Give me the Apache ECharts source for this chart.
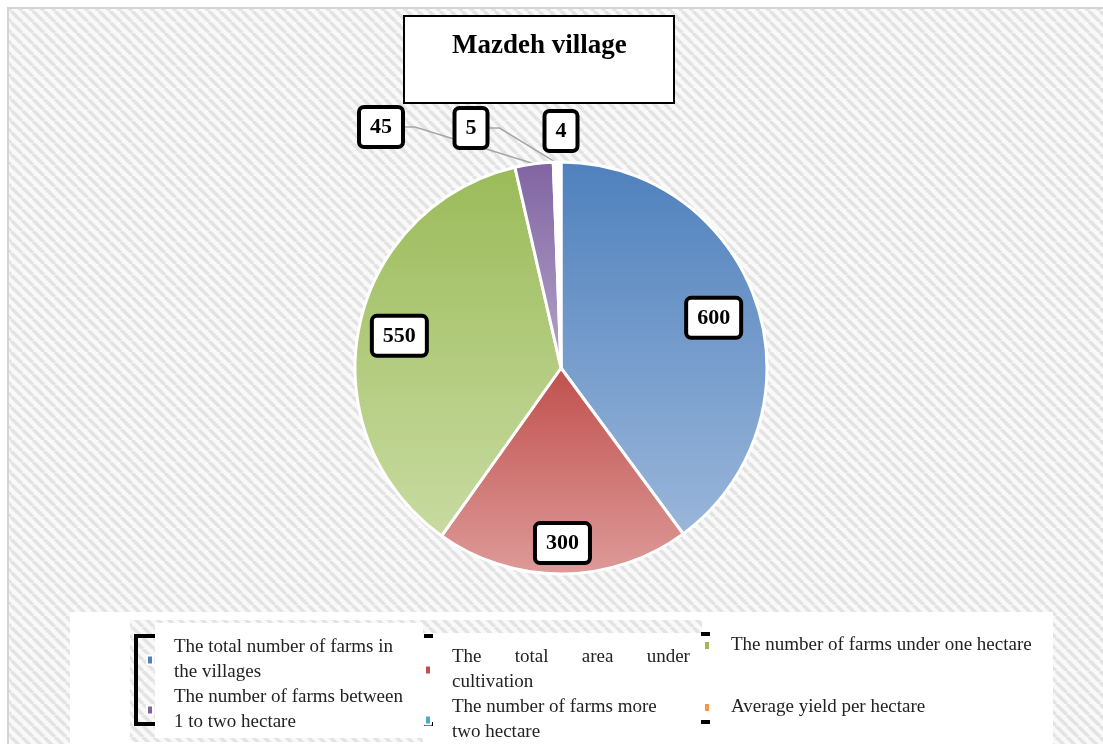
<!DOCTYPE html>
<html>
<head>
<meta charset="utf-8">
<style>
  html, body { margin: 0; padding: 0; background: #fff; }
  #chart { width: 1103px; height: 744px; }
</style>
<script src="https://cdn.jsdelivr.net/npm/echarts@6/dist/echarts.min.js"></script>
</head>
<body>
<div id="chart"></div>
<script>
// data
const categories = [
  'The total number of farms in the villages',
  'The total area under cultivation',
  'The number of farms under one hectare',
  'The number of farms between 1 to two hectare',
  'The number of farms more two hectare',
  'Average yield per hectare'
];
const values = [600, 300, 550, 45, 5, 4];
const legendLines = [
  'The total number of farms in\nthe villages',
  'The       total       area       under\ncultivation',
  'The number of farms under one hectare',
  'The number of farms between\n1 to two hectare',
  'The number of farms more\ntwo hectare',
  'Average yield per hectare'
];

const baseColors = ['#4f81bd', '#c0504d', '#9bbb59', '#8064a2', '#4bacc6', '#f79646'];
const lightColors = ['#9ab6da', '#dd9b99', '#c8dba1', '#b4a4c9', '#ffffff', '#ffffff'];

const cx = 561, cy = 368, R = 206;
const total = values.reduce((a, b) => a + b, 0);

// hatch pattern for the background
function hatch() {
  const s = 11;
  const c = document.createElement('canvas');
  c.width = s; c.height = s;
  const g = c.getContext('2d');
  g.fillStyle = '#f9f9f9';
  g.fillRect(0, 0, s, s);
  g.strokeStyle = '#e3e3e3';
  g.lineWidth = 3.5;
  g.beginPath();
  for (let k = -1; k <= 1; k++) {
    g.moveTo(k * s, 0);
    g.lineTo(k * s + s, s);
  }
  g.stroke();
  return c;
}
const pattern = { image: hatch(), repeat: 'repeat' };

function midAngle(i) {
  let s = 0;
  for (let j = 0; j < i; j++) s += values[j];
  return (s + values[i] / 2) / total * Math.PI * 2;
}

// where the small outside labels sit
const smallLabelPos = { 3: [381, 127], 4: [471, 128], 5: [561, 131] };
const labelRadius = [0.78, 0.85, 0.8];

const chart = echarts.init(document.getElementById('chart'));

const pieData = values.map((v, i) => {
  const item = {
    name: categories[i],
    value: v,
    itemStyle: {
      color: i < 4
        ? new echarts.graphic.LinearGradient(0, 0, 0, 1, [
            { offset: 0, color: baseColors[i] },
            { offset: 1, color: lightColors[i] }
          ])
        : '#ffffff'
    }
  };
  if (i >= 3) {
    item.label = { position: 'outside' };
    item.labelLine = { show: i !== 5 };
  }
  return item;
});

function legendFor(idx, left, top, gap) {
  return {
    orient: 'vertical',
    left: left,
    top: top,
    height: 115,
    padding: 0,
    itemGap: gap,
    itemWidth: 6,
    itemHeight: 9,
    icon: 'rect',
    selectedMode: false,
    data: idx.map(i => ({ name: categories[i], itemStyle: { color: baseColors[i] } })),
    formatter: name => legendLines[categories.indexOf(name)],
    textStyle: {
      fontFamily: 'Liberation Serif',
      fontSize: 19,
      lineHeight: 25,
      color: '#222',
      padding: [0, 0, 0, 16]
    }
  };
}

const dash = (x, y) => ({
  type: 'line', z: -6, silent: true,
  shape: { x1: x, y1: y, x2: x + 9, y2: y },
  style: { stroke: '#000', lineWidth: 4 }
});

chart.setOption({
  backgroundColor: '#fff',
  animation: false,
  title: {
    text: 'Mazdeh village',
    left: 404,
    top: 16,
    padding: [15, 48, 42, 48],
    backgroundColor: '#fff',
    borderColor: '#000',
    borderWidth: 2,
    textStyle: {
      fontFamily: 'Liberation Serif',
      fontSize: 27,
      fontWeight: 'bold',
      lineHeight: 30,
      color: '#000'
    }
  },
  graphic: [
    { type: 'rect', z: -10, silent: true,
      shape: { x: 8, y: 8, width: 1110, height: 760 },
      style: { fill: pattern, stroke: '#d4d4d4', lineWidth: 2 } },
    { type: 'rect', z: -9, silent: true,
      shape: { x: 70, y: 612, width: 983, height: 140 },
      style: { fill: '#fff' } },
    { type: 'rect', z: -8, silent: true,
      shape: { x: 130, y: 620, width: 572, height: 122 },
      style: { fill: pattern } },
    { type: 'rect', z: -7, silent: true,
      shape: { x: 155, y: 623, width: 268, height: 115 },
      style: { fill: '#fff' } },
    { type: 'rect', z: -7, silent: true,
      shape: { x: 423, y: 633, width: 279, height: 115 },
      style: { fill: '#fff' } },
    { type: 'polyline', z: -6, silent: true,
      shape: { points: [[155, 636], [136, 636], [136, 724], [155, 724]] },
      style: { stroke: '#000', lineWidth: 4, fill: null } },
    dash(424, 636), dash(424, 724), dash(701, 634), dash(701, 722)
  ],
  legend: [
    legendFor([0, 3], 146, 635, 0),
    legendFor([1, 4], 424, 645, 0),
    legendFor([2, 5], 703, 633, 37)
  ],
  series: [{
    type: 'pie',
    center: [cx, cy],
    radius: R,
    startAngle: 90,
    clockwise: true,
    avoidLabelOverlap: false,
    data: pieData,
    itemStyle: { borderColor: '#fff', borderWidth: 3 },
    label: {
      show: true,
      position: 'inside',
      formatter: '{c}',
      fontFamily: 'Liberation Serif',
      fontWeight: 'bold',
      fontSize: 22,
      lineHeight: 24,
      color: '#000',
      backgroundColor: '#fff',
      borderColor: '#000',
      borderWidth: 4,
      borderRadius: 3,
      padding: [6, 9, 6, 9]
    },
    labelLine: {
      show: false,
      length: 20,
      length2: 10,
      lineStyle: { color: '#a6a6a6', width: 1.5 }
    },
    emphasis: { disabled: true },
    labelLayout: function (p) {
      const i = p.dataIndex;
      if (smallLabelPos[i]) {
        return { x: smallLabelPos[i][0], y: smallLabelPos[i][1], align: 'center', verticalAlign: 'middle' };
      }
      const a = midAngle(i);
      const r = R * labelRadius[i];
      return { x: cx + r * Math.sin(a), y: cy - r * Math.cos(a), align: 'center', verticalAlign: 'middle' };
    }
  }]
});
</script>
</body>
</html>
